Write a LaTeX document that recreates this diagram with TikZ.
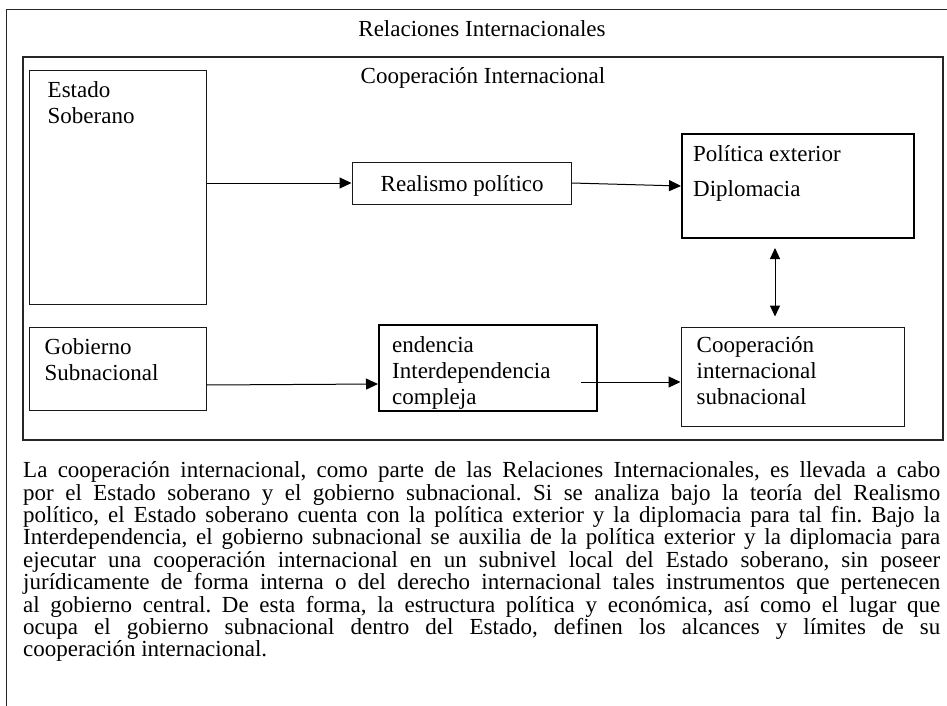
\documentclass[tikz,border=0pt]{standalone}
\usepackage{fontspec}
\setmainfont{Liberation Serif}
\newfontfamily\notefont{Liberation Serif}
\usepackage{tikz}
\usetikzlibrary{arrows.meta, positioning, calc}
\tikzstyle{frame} = [draw=black!85, line width=1pt]
\tikzstyle{heading} = [inner sep=0pt, font=\fontsize{23}{26}\selectfont]
\tikzstyle{card} = [rectangle, draw=black!90, line width=1pt, inner sep=0pt]
\tikzstyle{boldcard} = [rectangle, draw=black, line width=2pt, inner sep=0pt]
\tikzstyle{boxtext} = [inner sep=0pt, align=left, anchor=north west, font=\fontsize{23}{26}\selectfont]
\tikzstyle{note} = [inner sep=0pt, anchor=north west, text width=917pt, align=justify, font=\notefont\fontsize{23}{22.4}\selectfont]
\tikzstyle{link} = [-{Triangle[length=12pt, width=11pt]}, line width=1pt]
\tikzstyle{twoway} = [{Triangle[length=11pt, width=10pt]}-{Triangle[length=11pt, width=10pt]}, line width=1pt]

\begin{document}
\begin{tikzpicture}[x=1pt, y=-1pt]
\useasboundingbox (0,0) rectangle (947,706);
\clip (0,0) rectangle (947,706);
\draw [frame] (6.5,10) rectangle (1000,760);
\draw [frame, line width=2pt] (23,57.5) rectangle (942.5,440);
\node (relint) [heading, anchor=base] at (482,37) {Relaciones Internacionales};
\node (coopint) [heading, anchor=base] at (483,84) {Cooperación Internacional};
\node (estado) [card, minimum width=177pt, minimum height=233pt] at (117.5,187.5) {};
\node (gobierno) [card, minimum width=177pt, minimum height=83pt, below=22pt of estado] {};
\node (realismo) [card, minimum width=219pt, minimum height=42pt] at (461.5,183) {};
\node (politica) [boldcard, minimum width=232pt, minimum height=104pt] at (798,186) {};
\node (interd) [boldcard, minimum width=218pt, minimum height=86pt] at (488,368) {};
\node (coopsub) [card, minimum width=223pt, minimum height=99pt] at (792.5,376.5) {};
\node (estadotxt) [boxtext] at ([xshift=19pt, yshift=-11.3pt]estado.north west) {Estado\\Soberano};
\node (gobiernotxt) [boxtext] at ([xshift=16pt, yshift=-12.3pt]gobierno.north west) {Gobierno\\Subnacional};
\node (realismotxt) [boxtext] at ([xshift=29pt, yshift=-14.3pt]realismo.north west) {Realismo político};
\node (politicatxt) [boxtext] at ([xshift=12pt, yshift=-12.3pt]politica.north west) {Política exterior\\[9pt]Diplomacia};
\node (interdtxt) [boxtext] at ([xshift=14pt, yshift=-12.3pt]interd.north west) {endencia\\Interdependencia\\compleja};
\node (coopsubtxt) [boxtext] at ([xshift=16pt, yshift=-10.3pt]coopsub.north west) {Cooperación\\internacional\\subnacional};
\draw [link] (estado.east |- realismo) -- (realismo.west);
\draw [link] (realismo.east) -- (politica.west);
\draw [link] ([yshift=-16.5pt]gobierno.east) -- ([yshift=-16pt]interd.west);
\draw [link] ([xshift=-17pt, yshift=-14pt]interd.east) -- ([yshift=-5.5pt]coopsub.west);
\draw [twoway] ([xshift=-23pt, yshift=-9pt]politica.south) -- ([xshift=-17.5pt, yshift=10pt]coopsub.north);
\node (nota) [note] at (23,461.5) {\frenchspacing\tolerance=9999 \hbadness=10000 \hyphenpenalty=10000 \lineskiplimit=-10pt
La cooperación internacional, como parte de las Relaciones Internacionales, es llevada a cabo\linebreak
por el Estado soberano y el gobierno subnacional. Si se analiza bajo la teoría del Realismo\linebreak
político, el Estado soberano cuenta con la política exterior y la diplomacia para tal fin. Bajo la\linebreak
Interdependencia, el gobierno subnacional se auxilia de la política exterior y la diplomacia para\linebreak
ejecutar una cooperación internacional en un subnivel local del Estado soberano, sin poseer\linebreak
jurídicamente de forma interna o del derecho internacional tales instrumentos que pertenecen\linebreak
al gobierno central. De esta forma, la estructura política y económica, así como el lugar que\linebreak
ocupa el gobierno subnacional dentro del Estado, definen los alcances y límites de su\linebreak
cooperación internacional.};
\end{tikzpicture}
\end{document}
